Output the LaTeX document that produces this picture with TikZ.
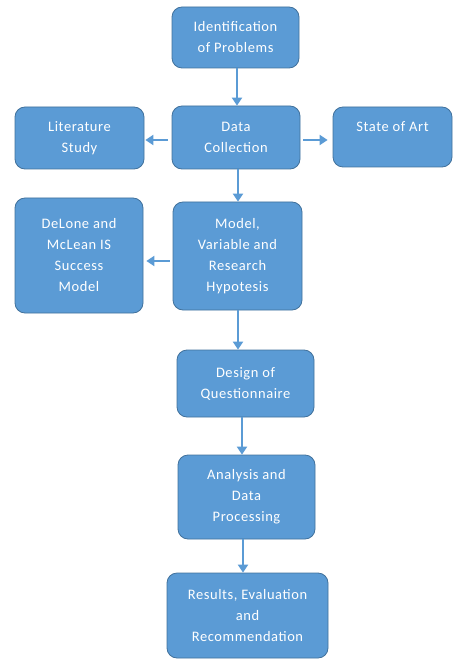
\documentclass[tikz,border=0pt]{standalone}
\usepackage{fontspec}
\setmainfont{Carlito}[LetterSpace=4]
\usetikzlibrary{arrows.meta}
\definecolor{boxfill}{HTML}{5B9BD5}
\definecolor{boxedge}{HTML}{41719C}
\begin{document}
\begin{tikzpicture}[x=1pt,y=-1pt,
  stepbox/.style={draw=boxedge, line width=0.8pt, fill=boxfill, rounded corners=10pt,
    text=white, align=center, inner sep=0pt,
    font=\fontsize{14.5}{21}\selectfont},
  arr/.style={draw=boxfill, line width=2pt, -{Triangle[length=8pt,width=10pt]}}]
  \useasboundingbox (0,0) rectangle (454,660);
  % boxes: centre, width, height in px
  \node[stepbox, minimum width=127pt, minimum height=61pt] (ident) at (235.5,37.5) {Identification\\of Problems};
  \node[stepbox, minimum width=129pt, minimum height=62pt] (lit) at (79.5,138) {Literature\\Study};
  \node[stepbox, minimum width=128pt, minimum height=63pt] (data) at (236,137.5) {Data\\Collection};
  \node[stepbox, minimum width=119pt, minimum height=60pt] (state) at (392.5,137) {State of Art\\\mbox{}};
  \node[stepbox, minimum width=128pt, minimum height=115pt] (delone) at (79,255.5) {DeLone and\\McLean IS\\Success\\Model};
  \node[stepbox, minimum width=129pt, minimum height=108pt] (model) at (237.5,256) {Model,\\Variable and\\Research\\Hypotesis};
  \node[stepbox, minimum width=137pt, minimum height=67pt] (design) at (245.5,383.5) {Design of\\Questionnaire};
  \node[stepbox, minimum width=137pt, minimum height=84pt] (analysis) at (246.5,497) {Analysis and\\Data\\Processing};
  \node[stepbox, minimum width=161pt, minimum height=85pt] (results) at (247.5,615.5) {Results, Evaluation\\and\\Recommendation};
  % connectors
  \draw[arr] ([xshift=1.5pt]ident.south) -- ([xshift=1.5pt]ident.south |- data.north);
  \draw[arr] ([xshift=2pt]data.south) -- ([xshift=2pt]data.south |- model.north);
  \draw[arr] ([xshift=0.5pt]model.south) -- ([xshift=0.5pt]model.south |- design.north);
  \draw[arr] ([xshift=-3.5pt]design.south) -- ([xshift=-3.5pt]design.south |- analysis.north);
  \draw[arr] ([xshift=-3.5pt]analysis.south) -- ([xshift=-3.5pt]analysis.south |- results.north);
  \draw[arr, shorten <=4pt, shorten >=1pt] ([yshift=-2.5pt]data.west) -- ([yshift=-2.5pt]data.west -| lit.east);
  \draw[arr, shorten <=3pt, shorten >=5pt] ([yshift=-2.5pt]data.east) -- ([yshift=-2.5pt]data.east -| state.west);
  \draw[arr, shorten <=3pt, shorten >=3pt] ([yshift=-5pt]model.west) -- ([yshift=-5pt]model.west -| delone.east);
\end{tikzpicture}
\end{document}
